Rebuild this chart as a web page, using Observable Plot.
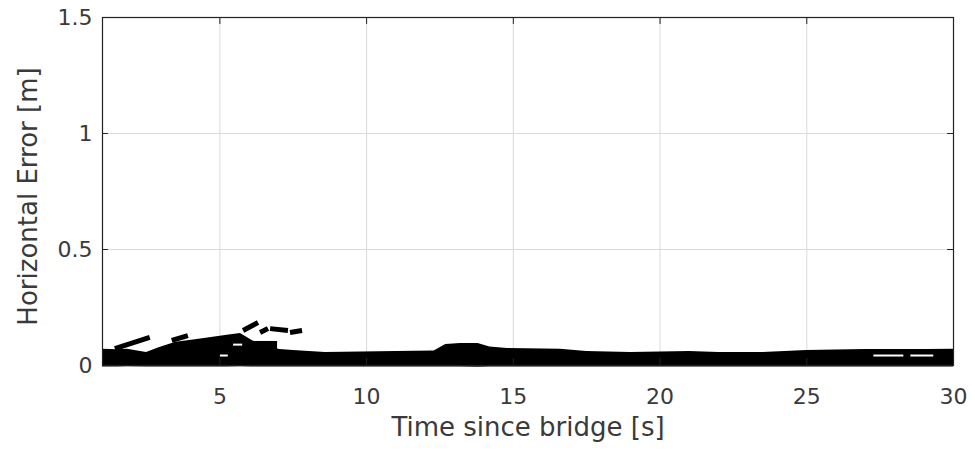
<!DOCTYPE html>
<html><head><meta charset="utf-8">
<script src="https://cdn.jsdelivr.net/npm/d3@7"></script>
<script src="https://cdn.jsdelivr.net/npm/@observablehq/plot@0.6"></script>
<style>body{margin:0;background:#fff;}</style>
</head><body><div id="chart"></div>
<script>
// Envelope of the dense black band of error traces
const time  = [1, 1.5, 1.85, 2.5, 2.95, 3.5, 4.1, 4.65, 5.25, 5.7, 6.1, 6.6, 7.05, 7.5, 8.6, 9.8, 11, 12.3, 12.7, 13.2, 13.8, 14.2, 14.8, 16.6, 17.5, 19, 21, 22, 23.5, 25, 27, 29, 30];
const upper = [0.07, 0.068, 0.07, 0.056, 0.078, 0.1, 0.11, 0.12, 0.13, 0.138, 0.108, 0.078, 0.069, 0.065, 0.056, 0.058, 0.06, 0.062, 0.09, 0.095, 0.095, 0.08, 0.073, 0.07, 0.06, 0.056, 0.06, 0.056, 0.056, 0.065, 0.069, 0.069, 0.07];
const lower = [-0.006, -0.006, -0.005, -0.007, -0.006, -0.006, -0.007, -0.006, -0.006, -0.005, -0.006, -0.007, -0.006, -0.006, -0.006, -0.006, -0.007, -0.006, -0.006, -0.007, -0.008, -0.007, -0.006, -0.006, -0.006, -0.006, -0.006, -0.007, -0.006, -0.006, -0.007, -0.007, -0.007];

// Isolated trace segments above the band
const dashX1 = [1.42, 3.36, 5.79, 6.37, 6.71, 7.39, 6.13, 6.45];
const dashY1 = [0.073, 0.108, 0.151, 0.142, 0.159, 0.142, 0.095, 0.075];
const dashX2 = [2.61, 3.91, 6.30, 6.64, 7.32, 7.80, 6.95, 6.95];
const dashY2 = [0.121, 0.129, 0.185, 0.159, 0.151, 0.151, 0.095, 0.078];

// Small white gaps inside the band
const gapX1 = [5.45, 5.0, 27.27, 28.53];
const gapX2 = [5.76, 5.27, 28.29, 29.31];
const gapY  = [0.09, 0.043, 0.043, 0.043];

const xTicks = [5, 10, 15, 20, 25, 30];
const yTicks = [0, 0.5, 1, 1.5];
const yTickLabels = ["0", "0.5", "1", "1.5"];
const xLabel = "Time since bridge [s]";
const yLabel = "Horizontal Error [m]";

const band = time.map((t, i) => ({t, lo: lower[i], hi: upper[i]}));
const dashes = dashX1.map((x, i) => ({x1: x, y1: dashY1[i], x2: dashX2[i], y2: dashY2[i]}));
const gaps = gapX1.map((x, i) => ({x1: x, x2: gapX2[i], y: gapY[i]}));

const TXT = "#3a3a3a";
const chart = Plot.plot({
  width: 975, height: 458,
  marginLeft: 102, marginRight: 22, marginTop: 17, marginBottom: 93,
  style: {fontFamily: "DejaVu Sans", fontSize: "22px", color: TXT, background: "#fff"},
  x: {domain: [1, 30]},
  y: {domain: [0, 1.5]},
  marks: [
    Plot.ruleX(xTicks.filter(t => t < 30), {stroke: "#dadada", strokeWidth: 1}),
    Plot.ruleY(yTicks.filter(t => t > 0 && t < 1.5), {stroke: "#dadada", strokeWidth: 1}),
    Plot.areaY(band, {x: "t", y1: "lo", y2: "hi", fill: "black"}),
    Plot.link(dashes, {x1: "x1", y1: "y1", x2: "x2", y2: "y2", stroke: "black", strokeWidth: 5}),
    Plot.link(gaps, {x1: "x1", x2: "x2", y1: "y", y2: "y", stroke: "white", strokeWidth: 2}),
    Plot.ruleX(xTicks, {y1: 0, y2: 0.03, stroke: "#222"}),
    Plot.ruleX(xTicks, {y1: 1.5, y2: 1.47, stroke: "#222"}),
    Plot.ruleY(yTicks, {x1: 1, x2: 1.2, stroke: "#222"}),
    Plot.ruleY(yTicks, {x1: 30, x2: 29.8, stroke: "#222"}),
    Plot.axisX(xTicks, {tickSize: 0, tickPadding: 23, fontSize: 22, fill: TXT, label: null}),
    Plot.axisY(yTicks, {tickSize: 0, tickPadding: 10, fontSize: 22, fill: TXT, label: null,
      tickFormat: d => yTickLabels[yTicks.indexOf(d)]}),
    Plot.text([xLabel], {frameAnchor: "bottom", textAnchor: "middle", dy: 70, fontSize: 26, fill: TXT}),
    Plot.text([yLabel], {frameAnchor: "left", textAnchor: "middle", dx: -74, dy: 5, rotate: -90, fontSize: 26, fill: TXT}),
    Plot.frame({stroke: "#222", strokeWidth: 1.2})
  ]
});
document.getElementById("chart").append(chart);
</script>
</body></html>
